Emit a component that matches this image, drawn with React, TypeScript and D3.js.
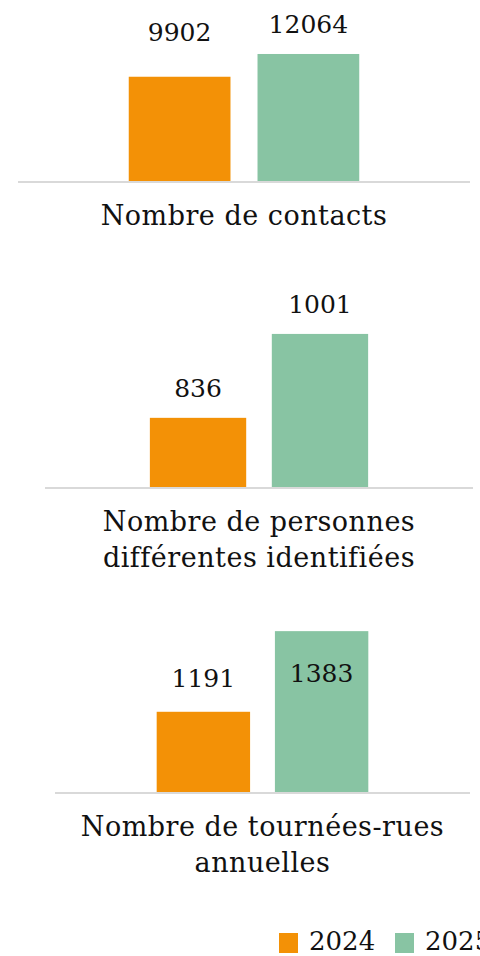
import * as d3 from "d3";

const width = 480;
const height = 956;

// series
const years = ["2024", "2025"];
const colors = ["#F39106", "#88C4A3"];

// panels
const categories = [
  ["Nombre de contacts"],
  ["Nombre de personnes", "différentes identifiées"],
  ["Nombre de tournées-rues", "annuelles"],
];
const values2024 = [9902, 836, 1191];
const values2025 = [12064, 1001, 1383];
const axisMin = [0, 700, 1000];
const axisMax = [14000, 1050, 1400];

// layout per panel (pixels)
const baselines = [181, 487, 792];
const plotTops = [33.6, 309, 624];
const lineLeft = [18, 45, 55];
const lineRight = [470, 473, 470];
// manual nudges of the data labels, as in the original
const labelDy = [
  [-36, -21],
  [-21, -21],
  [-25, 51],
];

const font = "'DejaVu Serif', serif";

const Panel = ({ i }) => {
  const x = d3
    .scaleBand()
    .domain(years)
    .range([lineLeft[i], lineRight[i]])
    .paddingInner(0.21)
    .paddingOuter(0.86);
  const y = d3
    .scaleLinear()
    .domain([axisMin[i], axisMax[i]])
    .range([baselines[i], plotTops[i]]);
  const vals = [values2024[i], values2025[i]];
  const cx = (lineLeft[i] + lineRight[i]) / 2;

  return (
    <g className="panel">
      {vals.map((v, j) => (
        <rect
          key={years[j]}
          x={x(years[j])}
          y={y(v)}
          width={x.bandwidth()}
          height={baselines[i] - y(v)}
          fill={colors[j]}
        />
      ))}
      <line
        x1={lineLeft[i]}
        x2={lineRight[i]}
        y1={baselines[i] + 1}
        y2={baselines[i] + 1}
        stroke="#d9d9d9"
        strokeWidth={2}
      />
      {vals.map((v, j) => (
        <text
          key={"l" + years[j]}
          x={x(years[j]) + x.bandwidth() / 2}
          y={y(v) + labelDy[i][j]}
          textAnchor="middle"
          fontSize={25}
          fill="#111"
        >
          {v}
        </text>
      ))}
      {categories[i].map((line, k) => (
        <text
          key={line}
          x={cx}
          y={baselines[i] + 44 + k * 36}
          textAnchor="middle"
          fontSize={27}
          letterSpacing={0.5}
          fill="#111"
        >
          {line}
        </text>
      ))}
    </g>
  );
};

export default function App() {
  return (
    <svg
      width={width}
      height={height}
      viewBox={`0 0 ${width} ${height}`}
      style={{ position: "absolute", left: 0, top: 0, background: "#fff" }}
      fontFamily={font}
    >
      {categories.map((_, i) => (
        <Panel key={i} i={i} />
      ))}
      <g className="legend">
        {years.map((yr, j) => (
          <g key={yr} transform={`translate(${279 + j * 116},933)`}>
            <rect width={19} height={20} fill={colors[j]} />
            <text x={30} y={17} fontSize={26} fill="#111">
              {yr}
            </text>
          </g>
        ))}
      </g>
    </svg>
  );
}
